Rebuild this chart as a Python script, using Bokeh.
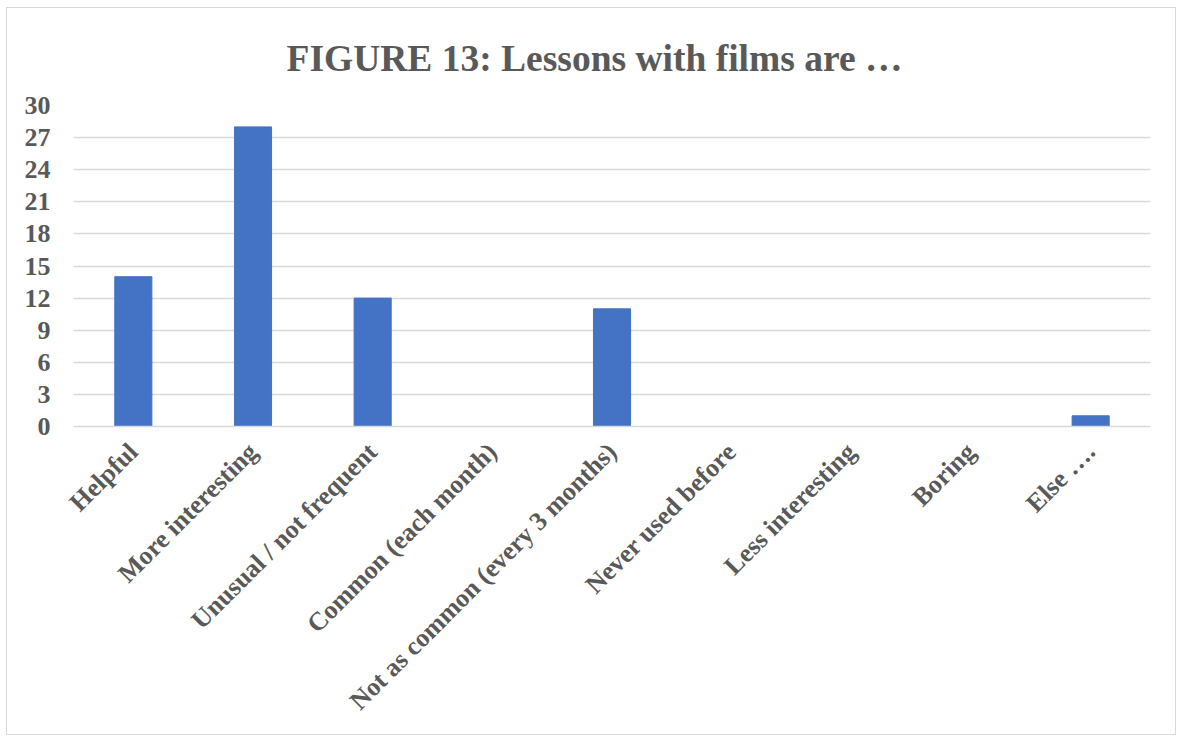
from math import pi
from bokeh.plotting import figure
from bokeh.models import FixedTicker, FactorRange, Range1d
from bokeh.embed import file_html
from bokeh.resources import INLINE

categories = ["Helpful", "More interesting", "Unusual / not frequent",
              "Common (each month)", "Not as common (every 3 months)",
              "Never used before", "Less interesting", "Boring", "Else …."]
counts = [14, 28, 12, 0, 11, 0, 0, 0, 1]
y_ticks = [0, 3, 6, 9, 12, 15, 18, 21, 24, 27, 30]

FONT = "Liberation Serif"
GREY = "#595959"
GRID = "#d9d9d9"

p = figure(x_range=FactorRange(*categories), y_range=Range1d(0, 30),
           width=1170, height=728, output_backend="svg", toolbar_location=None,
           min_border_left=66, min_border_right=27, min_border_top=96,
           min_border_bottom=310)

p.vbar(x=categories, top=counts, width=0.31, color="#4472C4")

p.title.text = "FIGURE 13: Lessons with films are …"
p.title.align = "left"
p.title.offset = 213
p.title.text_font = FONT
p.title.text_font_size = "37.5px"
p.title.text_font_style = "bold"
p.title.text_color = GREY
p.title.standoff = 54

p.outline_line_color = None
p.border_fill_color = "white"

p.xgrid.grid_line_color = None
p.ygrid.grid_line_color = GRID
p.ygrid.grid_line_width = 1.5

p.yaxis.ticker = FixedTicker(ticks=y_ticks)
p.yaxis.axis_line_color = None
p.yaxis.major_tick_line_color = None
p.yaxis.minor_tick_line_color = None
p.yaxis.major_label_text_font = FONT
p.yaxis.major_label_text_font_size = "26px"
p.yaxis.major_label_text_font_style = "bold"
p.yaxis.major_label_text_color = GREY
p.yaxis.major_label_standoff = 17

p.xaxis.axis_line_color = GRID
p.xaxis.axis_line_width = 1.5
p.xaxis.major_tick_line_color = None
p.xaxis.minor_tick_line_color = None
p.xaxis.major_label_orientation = pi / 4
p.xaxis.major_label_text_font = FONT
p.xaxis.major_label_text_font_size = "26px"
p.xaxis.major_label_text_font_style = "bold"
p.xaxis.major_label_text_color = GREY
p.xaxis.major_label_standoff = 15

p.styles = {"border": "1.5px solid #d9d9d9", "margin-left": "6px",
            "margin-top": "7px"}

open("out.html", "w").write(file_html(p, INLINE))
